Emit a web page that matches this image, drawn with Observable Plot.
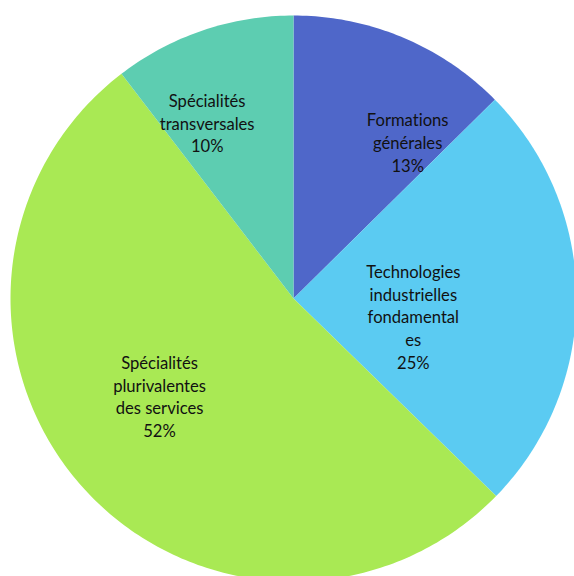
<!DOCTYPE html>
<html>
<head>
<meta charset="utf-8">
<script src="https://cdn.jsdelivr.net/npm/d3@7"></script>
<script src="https://cdn.jsdelivr.net/npm/@observablehq/plot@0.6"></script>
<style>
  html, body { margin: 0; padding: 0; background: #ffffff; overflow: hidden; }
  #chart svg { display: block; }
  #chart svg text { font-variant-ligatures: none; font-feature-settings: "liga" 0; }
</style>
</head>
<body>
<div id="chart"></div>
<script>
// ---- data ----
const categories = [
  "Formations générales",
  "Technologies industrielles fondamentales",
  "Spécialités plurivalentes des services",
  "Spécialités transversales"
];
const labelLines = [
  ["Formations", "générales"],
  ["Technologies", "industrielles", "fondamental", "es"],
  ["Spécialités", "plurivalentes", "des services"],
  ["Spécialités", "transversales"]
];
const shares = [12.6, 24.7, 52.3, 10.4];
const colors = ["#4F67C9", "#5BCBF2", "#A9E954", "#5DCDB1"];

// ---- label layout (radius fraction, angular nudge in degrees from slice middle) ----
const labelRadius = [0.685, 0.428, 0.585, 0.693];
const labelNudge = [13.4, 8.6, 5.6, -7.4];

// ---- build slices with d3.pie (clockwise from 12 o'clock) ----
const arcs = d3.pie().sort(null).value(d => d)(shares);
const polys = [];
arcs.forEach((a, i) => {
  const name = categories[i];
  polys.push({name, x: 0, y: 0});
  const n = Math.max(2, Math.ceil((a.endAngle - a.startAngle) / (2 * Math.PI) * 400));
  for (let k = 0; k <= n; k++) {
    const t = a.startAngle + (a.endAngle - a.startAngle) * k / n;
    polys.push({name, x: Math.sin(t), y: Math.cos(t)});
  }
  polys.push({name, x: 0, y: 0});
});

const total = d3.sum(shares);
const labels = arcs.map((a, i) => {
  const mid = (a.startAngle + a.endAngle) / 2 + labelNudge[i] * Math.PI / 180;
  const r = labelRadius[i];
  return {
    x: r * Math.sin(mid),
    y: r * Math.cos(mid),
    text: labelLines[i].concat([Math.round(shares[i] / total * 100) + "%"]).join("\n")
  };
});

const W = 574, H = 576, R = 283, cx = 293, cy = 298;

const chart = Plot.plot({
  width: W,
  height: H,
  margin: 0,
  style: {background: "#ffffff", fontFamily: "Lato, Carlito, 'Open Sans', sans-serif"},
  x: {axis: null, domain: [-cx / R, (W - cx) / R]},
  y: {axis: null, domain: [-(H - cy) / R, cy / R]},
  color: {domain: categories, range: colors},
  marks: [
    Plot.line(polys, {x: "x", y: "y", z: "name", fill: "name", stroke: "none", curve: "linear"}),
    Plot.text(labels, {
      x: "x", y: "y", text: "text",
      fontSize: 16.6, lineHeight: 1.36, fill: "#111111",
      textAnchor: "middle", lineAnchor: "middle"
    })
  ]
});
document.getElementById("chart").appendChild(chart);
</script>
</body>
</html>
